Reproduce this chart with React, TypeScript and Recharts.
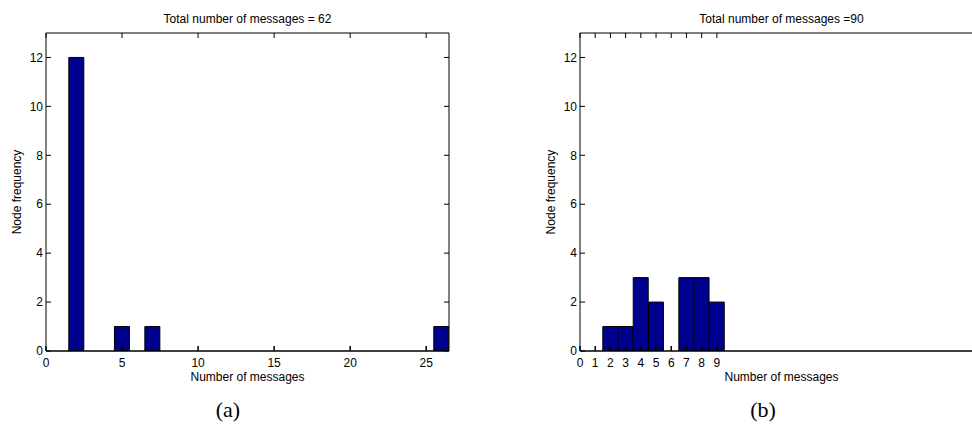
import React from "react";
import { BarChart, Bar, XAxis, YAxis, Label } from "recharts";

const FONT = "'Liberation Sans', Arial, Helvetica, sans-serif";
const SERIF = "'Liberation Serif', 'Times New Roman', serif";
const NAVY = "#00008F";

// (a) histogram: message count -> number of nodes
const messagesA = [2, 5, 7, 26];
const nodesA = [12, 1, 1, 1];
const xTicksA = [0, 5, 10, 15, 20, 25];

// (b)
const messagesB = [2, 3, 4, 5, 7, 8, 9];
const nodesB = [1, 1, 3, 2, 3, 3, 2];
const xTicksB = [0, 1, 2, 3, 4, 5, 6, 7, 8, 9];

const yTicks = [0, 2, 4, 6, 8, 10, 12];
const X_MAX = 26.5;
const Y_MAX = 13;

// fill every integer bin so each bar is one unit wide
function buildBins(xs: number[], ys: number[]) {
  const last = Math.max(...xs);
  const rows: { messages: number; nodes: number }[] = [];
  for (let m = 1; m <= last; m++) {
    const i = xs.indexOf(m);
    rows.push({ messages: m, nodes: i >= 0 ? ys[i] : 0 });
  }
  return rows;
}

const tickStyle = { fill: "#000", fontSize: 12, fontFamily: FONT };

interface PanelProps {
  data: { messages: number; nodes: number }[];
  xTicks: number[];
  title: string;
  left: number;
  marginLeft: number;
  caption: string;
  captionX: number;
}

function Panel({ data, xTicks, title, left, marginLeft, caption, captionX }: PanelProps) {
  const width = marginLeft + 30 + 403 + 1 + 30;
  return (
    <>
      <div style={{ position: "absolute", left, top: 0 }}>
        <BarChart
          width={width}
          height={425}
          data={data}
          margin={{ top: 32, right: 30, bottom: 54, left: marginLeft }}
          barCategoryGap={0}
          barGap={0}
        >
          {/* top edge of the box: inward ticks, no labels */}
          <XAxis
            xAxisId="top"
            orientation="top"
            dataKey="messages"
            type="number"
            domain={[0, X_MAX]}
            ticks={xTicks}
            interval={0}
            allowDataOverflow
            height={1}
            tickSize={-5}
            tickFormatter={() => ""}
            stroke="#000"
          >
            <Label value={title} position="top" offset={9} fill="#000" fontSize={12} fontFamily={FONT} />
          </XAxis>
          <XAxis
            dataKey="messages"
            type="number"
            domain={[0, X_MAX]}
            ticks={xTicks}
            allowDataOverflow
            height={20}
            tickSize={-5}
            tickMargin={12}
            tick={tickStyle}
            interval={0}
            stroke="#000"
            strokeWidth={1.5}
          >
            <Label value="Number of messages" position="bottom" offset={1} fill="#000" fontSize={12} fontFamily={FONT} />
          </XAxis>
          <YAxis
            dataKey="nodes"
            type="number"
            domain={[0, Y_MAX]}
            ticks={yTicks}
            allowDataOverflow
            width={30}
            tickSize={-5}
            tickMargin={8}
            tick={tickStyle}
            interval={0}
            stroke="#000"
          >
            <Label value="Node frequency" angle={-90} position="center" dx={-14} fill="#000" fontSize={12} fontFamily={FONT} />
          </YAxis>
          {/* right edge of the box */}
          <YAxis
            yAxisId="right"
            orientation="right"
            dataKey="nodes"
            type="number"
            domain={[0, Y_MAX]}
            ticks={yTicks}
            interval={0}
            allowDataOverflow
            width={1}
            tickSize={-5}
            tickFormatter={() => ""}
            stroke="#000"
          />
          <Bar dataKey="nodes" fill={NAVY} stroke="#000" strokeWidth={1} isAnimationActive={false} />
        </BarChart>
      </div>
      <div
        style={{
          position: "absolute",
          left: captionX - 50,
          top: 399,
          width: 100,
          textAlign: "center",
          fontFamily: SERIF,
          fontSize: 22,
          lineHeight: 1,
          color: "#000",
        }}
      >
        {caption}
      </div>
    </>
  );
}

export default function App() {
  return (
    <div
      style={{
        position: "absolute",
        left: 0,
        top: 0,
        width: 972,
        height: 425,
        overflow: "hidden",
        background: "#fff",
      }}
    >
      <Panel
        data={buildBins(messagesA, nodesA)}
        xTicks={xTicksA}
        title="Total number of messages = 62"
        left={0}
        marginLeft={16}
        caption="(a)"
        captionX={228}
      />
      <Panel
        data={buildBins(messagesB, nodesB)}
        xTicks={xTicksB}
        title="Total number of messages =90"
        left={490}
        marginLeft={60}
        caption="(b)"
        captionX={763}
      />
    </div>
  );
}
